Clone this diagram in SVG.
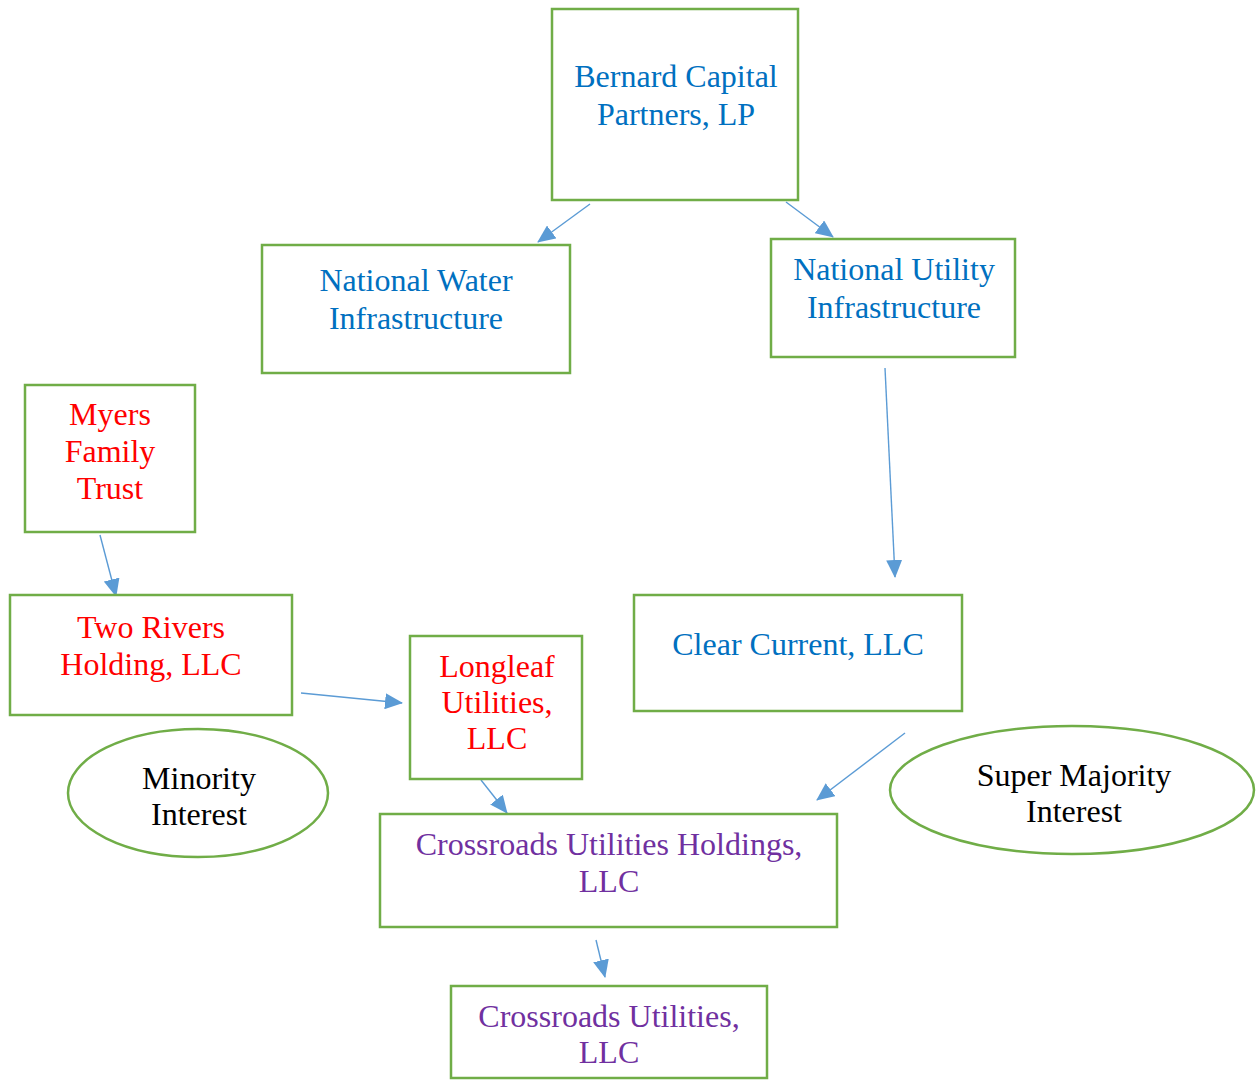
<svg xmlns="http://www.w3.org/2000/svg" width="1256" height="1082" viewBox="0 0 1256 1082">
<style>
.box{fill:#fff;stroke:#70AD47;stroke-width:2.5}
.t{font-family:"Liberation Serif","Times New Roman",serif;font-size:32px;text-anchor:middle}
.blue{fill:#0070C0}.red{fill:#FF0000}.purple{fill:#7030A0}.black{fill:#000}
.c{stroke:#5B9BD5;stroke-width:1.4;fill:none;marker-end:url(#ah)}
</style>
<defs>
<marker id="ah" markerUnits="userSpaceOnUse" markerWidth="20" markerHeight="16" refX="17" refY="8" orient="auto">
<path d="M0,0 L18,8 L0,16 Z" fill="#5B9BD5"/>
</marker>
</defs>
<rect width="1256" height="1082" fill="#fff"/>
<g id="connectors">
<line class="c" x1="590" y1="204" x2="538" y2="242"/>
<line class="c" x1="786" y1="202" x2="833" y2="237"/>
<line class="c" x1="885" y1="368" x2="895" y2="577"/>
<line class="c" x1="100" y1="535" x2="116" y2="596"/>
<line class="c" x1="301" y1="693" x2="402" y2="703"/>
<line class="c" x1="481" y1="780" x2="507" y2="813"/>
<line class="c" x1="905" y1="733" x2="817" y2="800"/>
<line class="c" x1="596" y1="940" x2="605" y2="977"/>
</g>
<g id="bernard">
<rect class="box" x="552" y="9" width="246" height="191"/>
<text class="t blue" x="676" y="87">Bernard Capital</text>
<text class="t blue" x="676" y="125">Partners, LP</text>
</g>
<g id="water">
<rect class="box" x="262" y="245" width="308" height="128"/>
<text class="t blue" x="416" y="291">National Water</text>
<text class="t blue" x="416" y="329">Infrastructure</text>
</g>
<g id="utility">
<rect class="box" x="771" y="239" width="244" height="118"/>
<text class="t blue" x="894" y="280">National Utility</text>
<text class="t blue" x="894" y="318">Infrastructure</text>
</g>
<g id="myers">
<rect class="box" x="25" y="385" width="170" height="147"/>
<text class="t red" x="110" y="425">Myers</text>
<text class="t red" x="110" y="462">Family</text>
<text class="t red" x="110" y="499">Trust</text>
</g>
<g id="tworivers">
<rect class="box" x="10" y="595" width="282" height="120"/>
<text class="t red" x="151" y="638">Two Rivers</text>
<text class="t red" x="151" y="675">Holding, LLC</text>
</g>
<g id="longleaf">
<rect class="box" x="410" y="636" width="172" height="143"/>
<text class="t red" x="497" y="677">Longleaf</text>
<text class="t red" x="497" y="713">Utilities,</text>
<text class="t red" x="497" y="749">LLC</text>
</g>
<g id="clearcurrent">
<rect class="box" x="634" y="595" width="328" height="116"/>
<text class="t blue" x="798" y="655">Clear Current, LLC</text>
</g>
<g id="minority">
<ellipse class="box" cx="198" cy="793" rx="130" ry="64"/>
<text class="t black" x="199" y="789">Minority</text>
<text class="t black" x="199" y="825">Interest</text>
</g>
<g id="supermajority">
<ellipse class="box" cx="1072" cy="790" rx="182" ry="64"/>
<text class="t black" x="1074" y="786">Super Majority</text>
<text class="t black" x="1074" y="822">Interest</text>
</g>
<g id="holdings">
<rect class="box" x="380" y="814" width="457" height="113"/>
<text class="t purple" x="609" y="855">Crossroads Utilities Holdings,</text>
<text class="t purple" x="609" y="892">LLC</text>
</g>
<g id="crossroads">
<rect class="box" x="451" y="986" width="316" height="92"/>
<text class="t purple" x="609" y="1027">Crossroads Utilities,</text>
<text class="t purple" x="609" y="1063">LLC</text>
</g>
</svg>
